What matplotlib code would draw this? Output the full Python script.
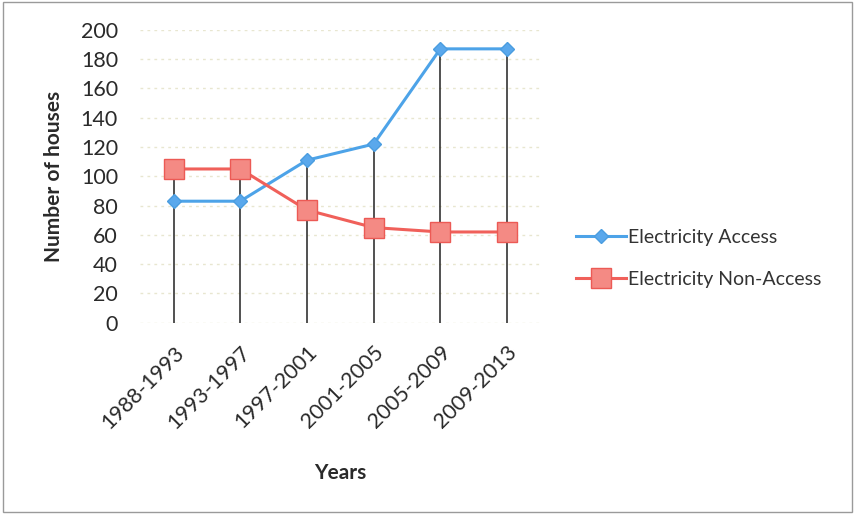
import matplotlib
matplotlib.use("Agg")
import matplotlib.pyplot as plt
from matplotlib.patches import Rectangle

periods = ["1988-1993", "1993-1997", "1997-2001", "2001-2005", "2005-2009", "2009-2013"]
access = [83, 83, 111, 122, 187, 187]
non_access = [105, 105, 77, 65, 62, 62]
y_ticks = [0, 20, 40, 60, 80, 100, 120, 140, 160, 180, 200]

plt.rcParams['font.family'] = ['Lato', 'DejaVu Sans']

fig = plt.figure(figsize=(8.55, 5.14), dpi=100)
ax = fig.add_axes([0.164, 0.372, 0.468, 0.570])

x = list(range(len(periods)))

# drop lines from the axis up to the higher of the two series
tops = [max(a, b) for a, b in zip(access, non_access)]
ax.vlines(x, 0, tops, colors="#222222", linewidth=1.1, zorder=2)

ax.plot(x, access, color="#4da3e8", linewidth=2.2, marker="D", markersize=7,
        markerfacecolor="#5aa8ec", markeredgecolor="#4a9de0",
        label="Electricity Access", zorder=3)
ax.plot(x, non_access, color="#f0605a", linewidth=2.2, marker="s", markersize=14,
        markerfacecolor="#f48a84", markeredgecolor="#ec5a55",
        label="Electricity Non-Access", zorder=4)

ax.set_xlim(-0.5, len(periods) - 0.5)
ax.set_ylim(0, 200)
ax.set_yticks(y_ticks)
ax.set_xticks(x)
ax.set_xticklabels(periods, rotation=45, ha="right", rotation_mode="anchor",
                   fontsize=15.5, color="#2a2a2a")
ax.tick_params(axis="y", labelsize=15.5, labelcolor="#2a2a2a", length=0, pad=16)
ax.tick_params(axis="x", length=0, pad=14)

for s in ax.spines.values():
    s.set_visible(False)
ax.grid(axis="y", color="#e8e6d0", linestyle=(0, (2, 3)), linewidth=1.0)
ax.set_axisbelow(True)

ax.set_ylabel("Number of houses", fontsize=15, fontweight="bold", color="#2a2a2a", labelpad=12)
ax.set_xlabel("Years", fontsize=15, fontweight="bold", color="#2a2a2a", labelpad=22)

leg = ax.legend(loc="center left", bbox_to_anchor=(1.045, 0.22), frameon=False,
                fontsize=14, handlelength=2.6, handletextpad=0.1, labelspacing=1.3,
                labelcolor="#333333")

fig.patches.append(Rectangle((0.003, 0.003), 0.994, 0.994, transform=fig.transFigure,
                             fill=False, edgecolor="#9a9a9a", linewidth=1.0))

fig.savefig("out.png", dpi=100, facecolor="white")
